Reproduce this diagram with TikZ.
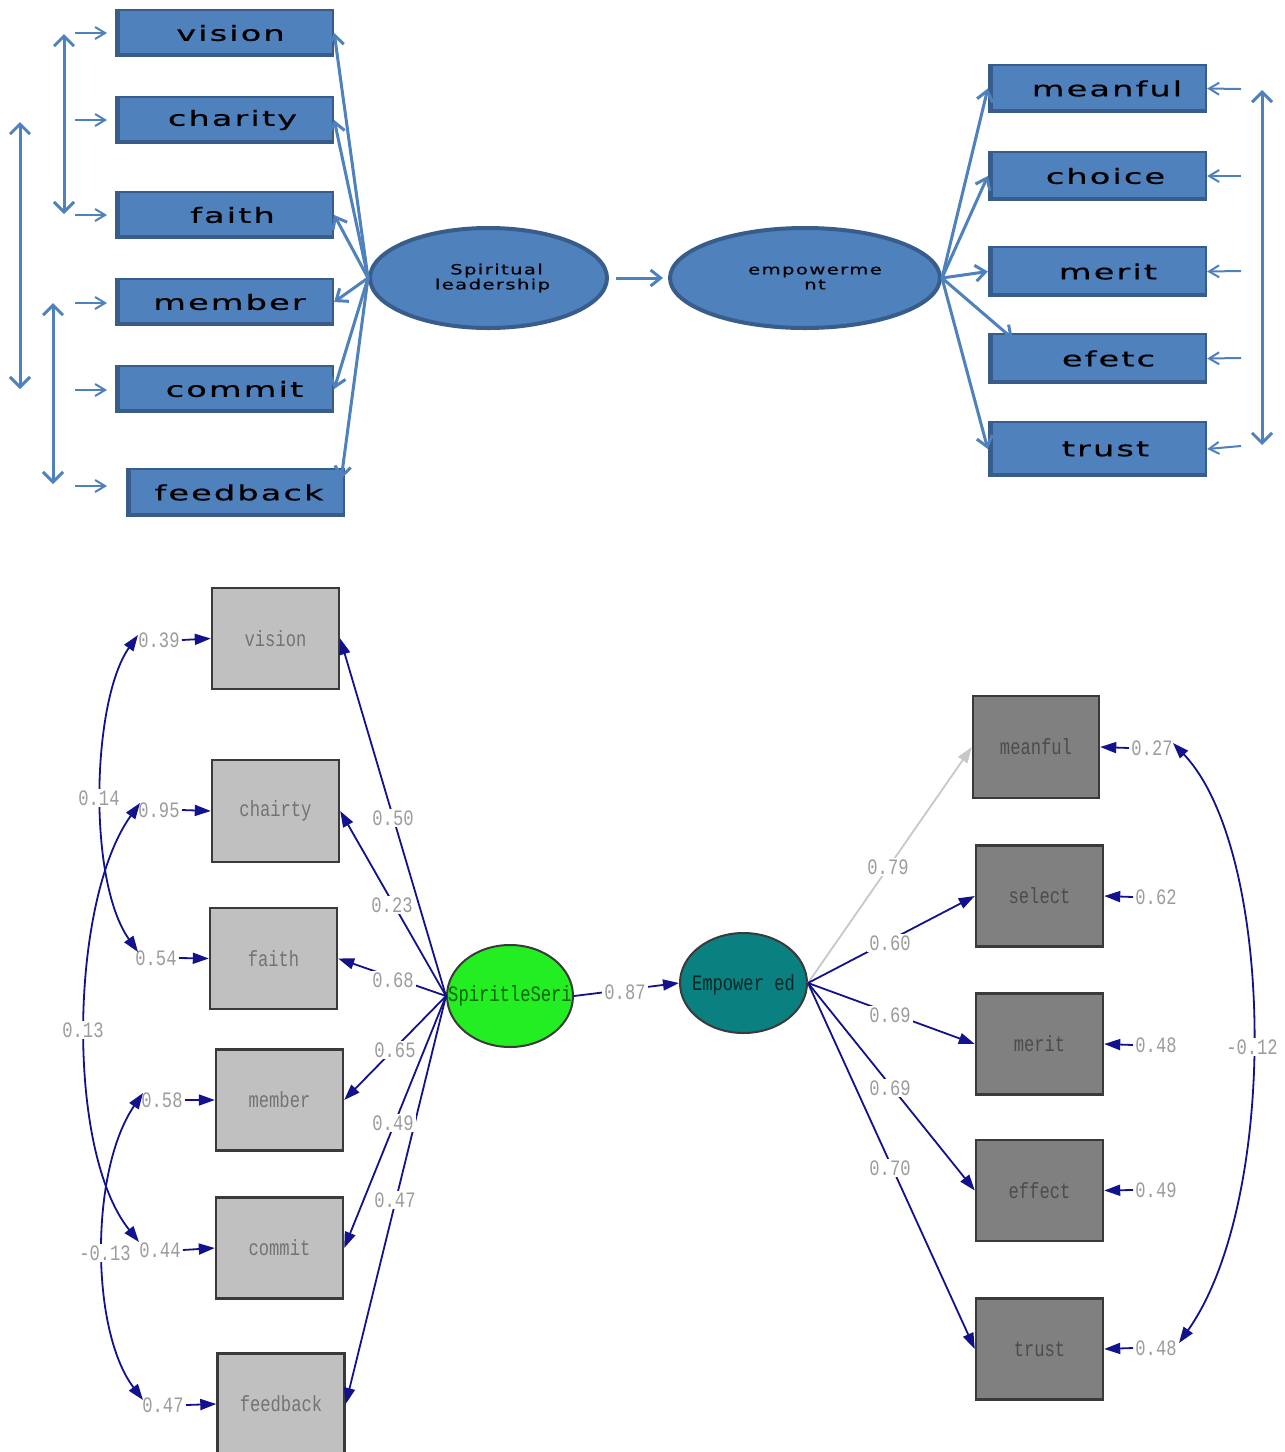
\documentclass[tikz,border=0pt]{standalone}
\usepackage{fontspec}
\usetikzlibrary{arrows.meta,shapes.geometric,calc}
\newfontfamily\topfont[FakeStretch=1.6,LetterSpace=10,FakeBold=0.6]{DejaVu Sans}
\newfontfamily\ovalfont[FakeStretch=1.4,LetterSpace=10,FakeBold=0.4]{DejaVu Sans}
\newfontfamily\semfont[FakeStretch=0.78]{Liberation Mono}
\definecolor{pblue}{HTML}{4F81BD}
\definecolor{pedge}{HTML}{385D8A}
\definecolor{navy}{HTML}{12128C}
\definecolor{lbl}{HTML}{9C9C9C}
\definecolor{lgray}{HTML}{C0C0C0}
\definecolor{dgray}{HTML}{808080}
\definecolor{bedge}{HTML}{3A3A3A}
\definecolor{lime}{HTML}{22EE22}
\definecolor{tealfill}{HTML}{0A8080}
\definecolor{palegray}{HTML}{C8C8C8}
\begin{document}
\begin{tikzpicture}[x=0.5pt,y=-0.5pt,
  tbox/.style={draw=pedge, fill=pblue, line width=1.2pt, minimum width=108.5pt,
    minimum height=23pt, inner sep=0pt, font=\topfont\fontsize{10.5pt}{12pt}\selectfont,
    path picture={\draw[pedge, line width=3.5pt]
      (path picture bounding box.north west) -- (path picture bounding box.south west)
      -- (path picture bounding box.south east);}},
  toval/.style={ellipse, draw=pedge, fill=pblue, line width=2pt, inner sep=0pt,
    minimum height=50pt, align=center, font=\ovalfont\fontsize{7pt}{7.5pt}\selectfont},
  tarr/.style={draw=pblue, line width=1.5pt, -{Straight Barb[length=5pt,width=8pt]}},
  sarr/.style={draw=pblue, line width=1pt, -{Straight Barb[length=5pt,width=6pt]}},
  darr/.style={draw=pblue, line width=1.5pt,
    {Straight Barb[length=5pt,width=10pt]}-{Straight Barb[length=5pt,width=10pt]}},
  obox/.style={draw=bedge, line width=1.2pt, minimum width=63.5pt, minimum height=50.5pt,
    inner sep=0pt, font=\semfont\fontsize{11pt}{12pt}\selectfont},
  lbox/.style={obox, fill=lgray, text=black!55},
  dbox/.style={obox, fill=dgray, text=black!70},
  lab/.style={font=\semfont\fontsize{11pt}{12pt}\selectfont, text=lbl, fill=white, inner sep=1pt},
  elab/.style={font=\semfont\fontsize{11pt}{12pt}\selectfont, text=lbl, inner sep=1pt},
  load/.style={draw=navy, line width=0.9pt, -{Triangle[length=8pt,width=5.5pt]}},
  cov/.style={draw=navy, line width=0.9pt,
    {Triangle[length=8pt,width=5.5pt]}-{Triangle[length=8pt,width=5.5pt]}},
  soval/.style={ellipse, draw=bedge, line width=1pt, inner sep=0pt,
    minimum width=63pt, minimum height=51pt}
]
\useasboundingbox (0,0) rectangle (1285,1452);
\clip (0,0) rectangle (1285,1452);
\fill[white] (0,0) rectangle (1285,1452);

% ---------------- conceptual model ----------------
\node[tbox] (tvis) at (224.5,33) {\hspace*{6pt}vision};
\node[tbox] (tcha) at (224.5,120) {\hspace*{8pt}charity};
\node[tbox] (tfai) at (224.5,215) {\hspace*{8pt}faith};
\node[tbox] (tmem) at (224.5,302) {\hspace*{5pt}member};
\node[tbox] (tcom) at (224.5,389) {\hspace*{10pt}commit};
\node[tbox, minimum height=23.5pt] (tfee) at (235.5,492.5) {\hspace*{3.5pt}feedback};

\node[tbox, minimum height=23.5pt] (tmea) at (1097.5,88.5) {\hspace*{9.5pt}meanful};
\node[tbox, minimum height=24pt] (tcho) at (1097.5,176) {\hspace*{8pt}choice};
\node[tbox, minimum height=24.5pt] (tmer) at (1097.5,271.5) {\hspace*{10.5pt}merit};
\node[tbox, minimum height=24.5pt] (tefe) at (1097.5,358.5) {\hspace*{11pt}efetc};
\node[tbox, minimum height=27pt] (ttru) at (1097.5,449) {\hspace*{8pt}trust};

\node[toval, minimum width=118.5pt] (tsl) at (488.5,278) {\hspace*{8pt}Spiritual\\\hspace*{4pt}leadership};
\node[toval, minimum width=135pt] (temp) at (805,278) {\hspace*{10pt}empowerme\\\hspace*{10pt}nt};

\draw[tarr, shorten <=3.5pt, shorten >=2.5pt] (tsl.east) -- (temp.west);

% loadings of the leadership factor
\draw[tarr] (tsl.west) -- (tvis.east);
\draw[tarr] (tsl.west) -- (tcha.east);
\draw[tarr] (tsl.west) -- (tfai.east);
\draw[tarr] (tsl.west) -- (tmem.east);
\draw[tarr] (tsl.west) -- (tcom.east);
\draw[tarr] (tsl.west) -- ($(tfee.north east)+(-4,11)$);

% loadings of the empowerment factor
\draw[tarr] (temp.east) -- (tmea.west);
\draw[tarr] (temp.east) -- (tcho.west);
\draw[tarr] (temp.east) -- (tmer.west);
\draw[tarr] (temp.east) -- ($(tefe.north west)+(25,6)$);
\draw[tarr] (temp.east) -- (ttru.west);

% error terms, left
\coordinate (te1) at (75,33);
\coordinate (te2) at (75,120);
\coordinate (te3) at (75,215);
\coordinate (te4) at (75,303);
\coordinate (te5) at (75,390);
\coordinate (te6) at (75,486);
\draw[sarr] (te1) -- (107,33);
\draw[sarr] (te2) -- (107,120);
\draw[sarr] (te3) -- (107,215);
\draw[sarr] (te4) -- (107,303);
\draw[sarr] (te5) -- (107,390);
\draw[sarr] (te6) -- (107,486);

% error terms, right
\coordinate (tr1) at (1241,89);
\coordinate (tr2) at (1241,176);
\coordinate (tr3) at (1241,271);
\coordinate (tr4) at (1241,358);
\coordinate (tr5) at (1241,446);
\draw[sarr] (tr1) -- (tmea.east);
\draw[sarr] (tr2) -- (tcho.east);
\draw[sarr] (tr3) -- (tmer.east);
\draw[sarr] (tr4) -- (tefe.east);
\draw[sarr] (tr5) -- (ttru.east);

% correlated errors
\coordinate (ca1) at (64,34);
\coordinate (ca2) at (64,214);
\coordinate (cb1) at (20,122);
\coordinate (cb2) at (20,389);
\coordinate (cc1) at (53,303);
\coordinate (cc2) at (53,484);
\coordinate (cd1) at (1262,90);
\coordinate (cd2) at (1262,445);
\draw[darr] (ca1) -- (ca2);
\draw[darr] (cb1) -- (cb2);
\draw[darr] (cc1) -- (cc2);
\draw[darr] (cd1) -- (cd2);

% ---------------- estimated model ----------------
\node[lbox] (bvis) at (275.5,638.5) {vision};
\node[lbox, minimum height=51pt] (bcha) at (275.5,811) {chairty};
\node[lbox] (bfai) at (273.5,958.5) {faith};
\node[lbox] (bmem) at (279.5,1100) {member};
\node[lbox] (bcom) at (279.5,1248) {commit};
\node[lbox] (bfee) at (281,1404) {feedback};

\node[dbox, minimum width=63pt, minimum height=51pt] (bmea) at (1036,747) {meanful};
\node[dbox] (bsel) at (1039.5,896) {select};
\node[dbox] (bmer) at (1039.5,1044) {merit};
\node[dbox] (beff) at (1039.5,1190.5) {effect};
\node[dbox] (btru) at (1039.5,1349) {trust};

\node[soval, fill=lime] (bss) at (510,996) {};
\node[soval, fill=tealfill, minimum width=63.5pt, minimum height=50pt] (bep) at (743.5,983) {};
\node[font=\semfont\fontsize{11pt}{12pt}\selectfont, text=green!40!black] (bsst) at (510,996) {SpiritleSeri};
\node[font=\semfont\fontsize{11pt}{12pt}\selectfont, text=black!70!tealfill] (bept) at (743.5,985) {Empower ed};

% structural path
\draw[load] (bss.east) -- (bep.west);
\node[lab] (l87) at (625,992) {0.87};

% loadings, leadership
\draw[load] (bss.west) -- (bvis.east);
\draw[load] (bss.west) -- (bcha.east);
\draw[load] (bss.west) -- (bfai.east);
\draw[load] (bss.west) -- (bmem.east);
\draw[load] (bss.west) -- (bcom.east);
\draw[load] (bss.west) -- (bfee.east);
\node[lab] (l50) at (393,818) {0.50};
\node[lab] (l23) at (392,905) {0.23};
\node[lab] (l68) at (393,980) {0.68};
\node[lab] (l65) at (395,1050) {0.65};
\node[lab] (l49) at (393,1123) {0.49};
\node[lab] (l47) at (395,1200) {0.47};

% loadings, empowerment
\draw[draw=palegray, line width=0.9pt, -{Triangle[length=8pt,width=5.5pt]}] (bep.east) -- (bmea.west);
\draw[load] (bep.east) -- (bsel.west);
\draw[load] (bep.east) -- (bmer.west);
\draw[load] (bep.east) -- (beff.west);
\draw[load] (bep.east) -- (btru.west);
\node[lab] (l79) at (888,867) {0.79};
\node[lab] (l60) at (890,943) {0.60};
\node[lab] (l69a) at (890,1015) {0.69};
\node[lab] (l69b) at (890,1088) {0.69};
\node[lab] (l70) at (890,1168) {0.70};

% error variances
\node[elab] (e1) at (159,640) {0.39};
\node[elab] (e2) at (159,810) {0.95};
\node[elab] (e3) at (156,958) {0.54};
\node[elab] (e4) at (162,1100) {0.58};
\node[elab] (e5) at (160,1250) {0.44};
\node[elab] (e6) at (163,1405) {0.47};
\draw[load] (e1.east) -- (bvis.west);
\draw[load] (e2.east) -- (bcha.west);
\draw[load] (e3.east) -- (bfai.west);
\draw[load] (e4.east) -- (bmem.west);
\draw[load] (e5.east) -- (bcom.west);
\draw[load] (e6.east) -- (bfee.west);

\node[elab] (r1) at (1152,748) {0.27};
\node[elab] (r2) at (1156,897) {0.62};
\node[elab] (r3) at (1156,1045) {0.48};
\node[elab] (r4) at (1156,1190) {0.49};
\node[elab] (r5) at (1156,1348) {0.48};
\draw[load] (r1.west) -- (bmea.east);
\draw[load] (r2.west) -- (bsel.east);
\draw[load] (r3.west) -- (bmer.east);
\draw[load] (r4.west) -- (beff.east);
\draw[load] (r5.west) -- (btru.east);

% error covariances
\draw[cov] ($(e1.west)+(2,-5)$) .. controls (92,700) and (87,880) .. ($(e3.west)+(5,-6)$);
\draw[cov] ($(e2.west)+(4,-7)$) .. controls (70,900) and (65,1150) .. ($(e5.west)+(2,-8)$);
\draw[cov] ($(e4.west)+(4,-7)$) .. controls (90,1170) and (90,1330) .. ($(e6.west)+(3,-5)$);
\draw[cov] ($(r1.east)+(-2,-5)$) .. controls (1275,850) and (1280,1200) .. ($(r5.east)+(0,-5)$);
\node[lab] (c14) at (99,798) {0.14};
\node[lab] (c13) at (83,1030) {0.13};
\node[lab] (cm13) at (105,1253) {-0.13};
\node[lab] (cm12) at (1252,1047) {-0.12};
\end{tikzpicture}
\end{document}
